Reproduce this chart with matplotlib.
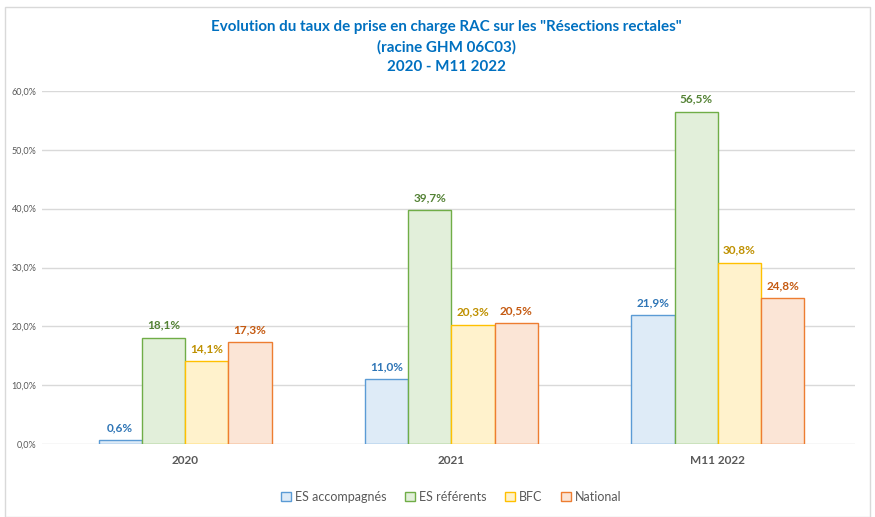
import matplotlib
matplotlib.use("Agg")
import matplotlib.pyplot as plt
import numpy as np
from matplotlib.patches import Rectangle

categories = ["2020", "2021", "M11 2022"]
series_names = ["ES accompagnés", "ES référents", "BFC", "National"]
es_accompagnes = [0.6, 11.0, 21.9]
es_referents = [18.1, 39.7, 56.5]
bfc = [14.1, 20.3, 30.8]
national = [17.3, 20.5, 24.8]
yticks = [0, 10, 20, 30, 40, 50, 60]

series = [es_accompagnes, es_referents, bfc, national]
fills = ["#DEEBF7", "#E2EFDA", "#FFF2CC", "#FBE5D6"]
edges = ["#5B9BD5", "#70AD47", "#FFC000", "#ED7D31"]
label_colors = ["#2E75B6", "#548235", "#BF9000", "#C55A11"]

plt.rcParams['font.family'] = ['Lato', 'DejaVu Sans']

W, H = 875, 517
fig = plt.figure(figsize=(W / 100, H / 100), dpi=100)
fig.patches.append(Rectangle((5 / W, 0), (W - 10) / W, 1 - 7 / H, transform=fig.transFigure,
                             fill=False, edgecolor="#D9D9D9", linewidth=1))

ax = fig.add_axes([42 / W, 1 - 444 / H, (855 - 42) / W, (444 - 91) / H])
x = np.arange(len(categories))
bw = 0.1625
cat_px = 266.7
for i, (vals, fc, ec, lc) in enumerate(zip(series, fills, edges, label_colors)):
    pos = x + (i - 1.5) * bw
    ax.bar(pos, vals, width=bw, color=fc, edgecolor=ec, linewidth=1.0, label=series_names[i], zorder=3)
    for p, v in zip(pos, vals):
        ax.text(p, v + 1.2, f"{v:.1f}%".replace(".", ","), ha="center", va="bottom",
                fontsize=8.5, fontweight="bold", color=lc, zorder=4)

ax.set_xlim(-0.5 - 10 / cat_px, 2.5 + 4 / cat_px)
ax.set_ylim(0, 60)
ax.set_yticks(yticks)
ax.set_yticklabels([f"{t:.1f}%".replace(".", ",") for t in yticks], fontsize=6.5, color="#595959")
ax.set_xticks(x)
ax.set_xticklabels(categories, fontsize=8.5, fontweight="bold", color="#595959")
ax.tick_params(axis="both", length=0)
ax.tick_params(axis="y", pad=4)
ax.tick_params(axis="x", pad=8)
ax.yaxis.grid(True, color="#D9D9D9", linewidth=1, zorder=0)
for s in ax.spines.values():
    s.set_visible(False)

tkw = dict(ha="center", va="center", fontsize=10.9, fontweight="bold", color="#0070C0")
fig.text(0.51, 1 - 27 / H, 'Evolution du taux de prise en charge RAC sur les "Résections rectales"', **tkw)
fig.text(0.51, 1 - 47 / H, '(racine GHM 06C03)', **tkw)
fig.text(0.51, 1 - 67 / H, '2020 - M11 2022', **tkw)

leg = fig.legend(loc="center", bbox_to_anchor=(451 / W, 1 - 497 / H), ncol=4, frameon=False,
                 fontsize=9, handlelength=0.8, handleheight=0.8, handletextpad=0.3, columnspacing=1.5)
for t in leg.get_texts():
    t.set_color("#595959")

fig.savefig("out.png", dpi=100)
